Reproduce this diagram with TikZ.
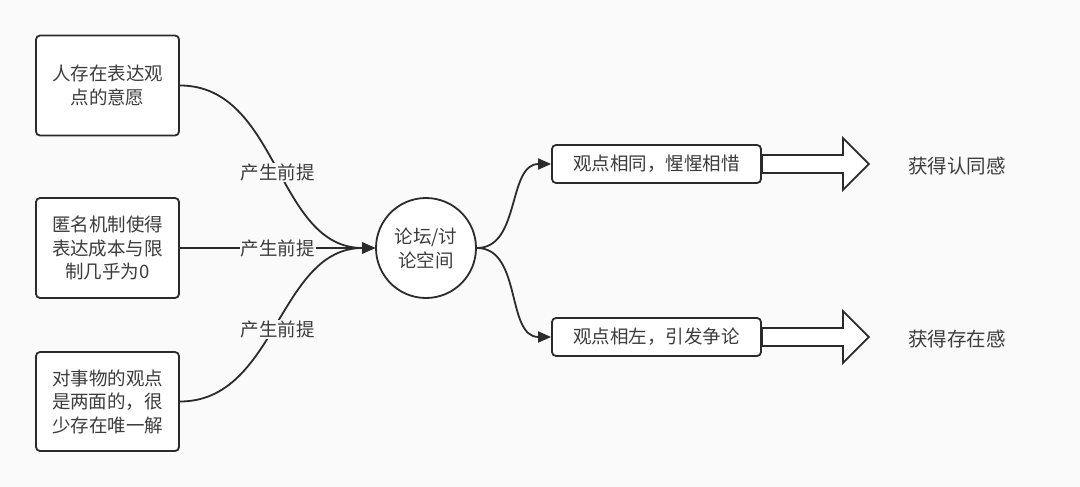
\documentclass[tikz,border=0pt]{standalone}
\usepackage{fontspec}
\setmainfont{Noto Sans CJK SC}
\usetikzlibrary{arrows.meta,calc}
\definecolor{bg}{HTML}{FAFAFA}
\definecolor{ink}{HTML}{2B2B2B}
\definecolor{txt}{HTML}{3C3C3C}
\tikzset{
  box/.style={draw=ink, line width=1.8pt, rounded corners=4pt, fill=white,
    minimum width=143pt, text width=130pt, align=center, inner sep=0pt,
    font=\fontsize{18.5pt}{23.5pt}\selectfont, text=txt},
  pill/.style={draw=ink, line width=1.8pt, rounded corners=4pt, fill=white,
    minimum width=209pt, minimum height=38pt, inner sep=0pt,
    font=\fontsize{18.5pt}{22pt}\selectfont, text=txt},
  hub/.style={draw=ink, line width=1.8pt, circle, fill=white, minimum size=100pt,
    inner sep=0pt, align=center, font=\fontsize{18.5pt}{24pt}\selectfont, text=txt},
  conn/.style={draw=ink, line width=1.8pt, -{Triangle[length=13pt,width=11pt]}},
  lbl/.style={fill=bg, inner sep=1pt, font=\fontsize{18.5pt}{22pt}\selectfont, text=txt},
  result/.style={font=\fontsize{19.5pt}{22pt}\selectfont, text=txt},
  hollow/.style={draw=ink, line width=1.8pt, fill=white, line join=miter}
}
\begin{document}
\begin{tikzpicture}[x=1pt,y=-1pt]
\fill[bg] (0,0) rectangle (1080,487);
\useasboundingbox (0,0) rectangle (1080,487);

\node[box, minimum height=100pt] (b1) at (107.5,85.5) {人存在表达观\\点的意愿};
\node[box, minimum height=100pt] (b2) at (107.5,248) {匿名机制使得\\表达成本与限\\制几乎为0};
\node[box, minimum height=99pt] (b3) at (107.5,401.5) {对事物的观点\\是两面的，很\\少存在唯一解};

\node[hub] (c) at (426,248) {论坛/讨\\论空间};

\node[pill] (t1) at (656.5,164) {观点相同，惺惺相惜};
\node[pill] (t2) at (656.5,337) {观点相左，引发争论};

\draw[conn] (b1.east) to[out=0,in=180] node[lbl, pos=0.5, yshift=-6pt] {产生前提} (c.west);
\draw[conn] (b2.east) to node[lbl, pos=0.5] {产生前提} (c.west);
\draw[conn] (b3.east) to[out=0,in=180] node[lbl, pos=0.5, yshift=-5pt] {产生前提} (c.west);

\draw[conn] (c.east) to[out=0,in=180] (t1.west);
\draw[conn] (c.east) to[out=0,in=180] (t2.west);

\draw[hollow] (t1.east) ++(0,-9) -- ++(81,0) -- ++(0,-17) -- ++(26,26) -- ++(-26,26) -- ++(0,-17) -- ++(-81,0) -- cycle;
\draw[hollow] (t2.east) ++(0,-9) -- ++(81,0) -- ++(0,-17) -- ++(26,26) -- ++(-26,26) -- ++(0,-17) -- ++(-81,0) -- cycle;

\node[result] (r1) at (957,166) {获得认同感};
\node[result] (r2) at (957,339) {获得存在感};
\end{tikzpicture}
\end{document}
